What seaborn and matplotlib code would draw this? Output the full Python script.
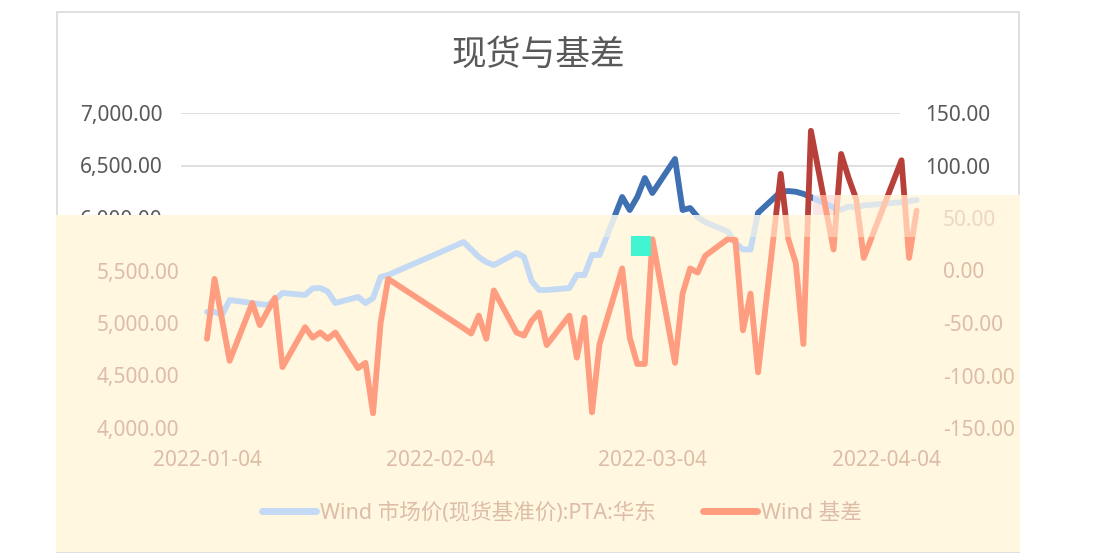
import matplotlib
matplotlib.use("Agg")
import matplotlib.dates as mdates
import matplotlib.pyplot as plt
import pandas as pd
import seaborn as sns
from matplotlib.lines import Line2D
from matplotlib.patches import Polygon, Rectangle
from matplotlib.ticker import FixedLocator, FuncFormatter

W, H = 1112, 558

dates = [
    "2022-01-04", "2022-01-05", "2022-01-06", "2022-01-07",
    "2022-01-10", "2022-01-11", "2022-01-12", "2022-01-13", "2022-01-14",
    "2022-01-17", "2022-01-18", "2022-01-19", "2022-01-20", "2022-01-21",
    "2022-01-24", "2022-01-25", "2022-01-26", "2022-01-27", "2022-01-28",
    "2022-02-07", "2022-02-08", "2022-02-09", "2022-02-10", "2022-02-11",
    "2022-02-14", "2022-02-15", "2022-02-16", "2022-02-17", "2022-02-18",
    "2022-02-21", "2022-02-22", "2022-02-23", "2022-02-24", "2022-02-25",
    "2022-02-28", "2022-03-01", "2022-03-02", "2022-03-03", "2022-03-04",
    "2022-03-07", "2022-03-08", "2022-03-09", "2022-03-10", "2022-03-11",
    "2022-03-14", "2022-03-15", "2022-03-16", "2022-03-17", "2022-03-18",
    "2022-03-21", "2022-03-22", "2022-03-23", "2022-03-24", "2022-03-25",
    "2022-03-28", "2022-03-29", "2022-03-30", "2022-03-31", "2022-04-01",
    "2022-04-06", "2022-04-07", "2022-04-08",
]
spot_price = [
    5105, 5105, 5076, 5219,
    5190, 5180, 5171, 5219, 5286,
    5267, 5330, 5333, 5300, 5190,
    5248, 5190, 5238, 5438, 5457,
    5771, 5700, 5629, 5580, 5552,
    5667, 5629, 5400, 5314, 5314,
    5333, 5457, 5457, 5648, 5648,
    6200, 6076, 6200, 6381, 6238,
    6562, 6076, 6095, 6010, 5960,
    5870, 5760, 5700, 5700, 6050,
    6250, 6257, 6250, 6230, 6200,
    6100, 6080, 6110, 6100, 6120,
    6150, 6160, 6170,
]
basis = [
    -65, -8, -47, -86,
    -31, -52, -39, -26, -92,
    -54, -64, -59, -65, -59,
    -93, -88, -136, -50, -8,
    -55, -60, -43, -65, -19,
    -59, -62, -48, -40, -71,
    -43, -83, -45, -135, -70,
    2, -64, -89, -89, 30,
    -88, -22, 2, -2, 14,
    30, 29, -57, -22, -97,
    92, 30, 7, -70, 133,
    20, 111, 88, 68, 12,
    105, 12, 57,
]
left_ticks = [4000, 4500, 5000, 5500, 6000, 6500, 7000]
right_ticks = [-150, -100, -50, 0, 50, 100, 150]
date_ticks = ["2022-01-04", "2022-02-04", "2022-03-04", "2022-04-04"]
title = "现货与基差"
spot_label = "Wind 市场价(现货基准价):PTA:华东"
basis_label = "Wind 基差"

DARK_BLUE = "#3E70B2"
DARK_RED = "#B8403B"
PALE_BLUE = "#C3D9F4"
SALMON = "#FF9D80"
CREAM = "#FFF7E0"
TAN = "#DDBDA7"
GREY_TEXT = "#595959"
GRID = "#D9D9D9"
LW = 4.2


def fx(px):
    return px / W


def fy(py):
    return 1 - py / H


def fmt(spec, lo=None, hi=None):
    # label only the ticks that stay visible on this layer
    def f(v, p):
        if lo is not None and v < lo:
            return ""
        if hi is not None and v > hi:
            return ""
        return format(v, spec)
    return FuncFormatter(f)


sns.set_theme(style="white")
plt.rcParams["font.family"] = ["Noto Sans", "Noto Sans CJK SC", "DejaVu Sans"]

df = pd.DataFrame({"date": pd.to_datetime(dates), "spot": spot_price, "basis": basis})
start = pd.Timestamp(dates[0])
xlim = (start - pd.Timedelta(days=3.44), start + pd.Timedelta(days=91.8))

fig = plt.figure(figsize=(W / 100, H / 100), dpi=100, facecolor="white")
rect = [fx(181), fy(428), fx(900) - fx(181), (428 - 113) / H]

# chart frame and title
fig.add_artist(Rectangle((fx(57), fy(552)), fx(1019) - fx(57), (552 - 12) / H,
                         transform=fig.transFigure, fill=False, edgecolor=GRID,
                         linewidth=1.2, zorder=1))
fig.text(fx(538), fy(55), title, ha="center", va="center", fontsize=25,
         color=GREY_TEXT, family=["Noto Sans CJK SC", "DejaVu Sans"])

# underlying chart (dark lines)
ax = fig.add_axes(rect)
ax.patch.set_alpha(0)
sns.lineplot(data=df, x="date", y="spot", ax=ax, color=DARK_BLUE, linewidth=LW)
ax2 = ax.twinx()
sns.lineplot(data=df, x="date", y="basis", ax=ax2, color=DARK_RED, linewidth=LW)
for line in ax.lines + ax2.lines:
    line.set_clip_on(False)
    line.set_solid_joinstyle("round")

ax.set_xlim(*xlim)
ax.set_ylim(4000, 7000)
ax2.set_ylim(-150, 150)
ax.set_yticks(left_ticks)
ax2.set_yticks(right_ticks)
ax.yaxis.set_major_formatter(fmt(",.2f", lo=6000))
ax2.yaxis.set_major_formatter(fmt(".2f", lo=100))
ax.yaxis.grid(True, color=GRID, linewidth=1.2)
ax.xaxis.grid(False)
ax2.grid(False)
ax.tick_params(axis="y", length=0, pad=13.5, labelsize=15, labelcolor=GREY_TEXT)
ax2.tick_params(axis="y", length=0, pad=18, labelsize=15, labelcolor=GREY_TEXT)
ax.tick_params(axis="x", length=0, labelbottom=False)
for a in (ax, ax2):
    a.set_xlabel("")
    a.set_ylabel("")
    for s in a.spines.values():
        s.set_visible(False)

# washed-out cream overlay over the lower part
overlay_pts = [(56, 215), (813, 215), (813, 195), (1020, 195), (1020, 552), (56, 552)]
overlay_xy = [(fx(x), fy(y)) for x, y in overlay_pts]
fig.add_artist(Polygon(overlay_xy, closed=True, transform=fig.transFigure,
                       facecolor=CREAM, edgecolor="none", zorder=5))
fig.add_artist(Rectangle((fx(813), fy(215)), fx(835) - fx(813), 20 / H,
                         transform=fig.transFigure, facecolor="#FBE6E3",
                         edgecolor="none", zorder=6))
clip_poly = Polygon(overlay_xy, closed=True, transform=fig.transFigure)

axo = fig.add_axes(rect, zorder=10)
axo.patch.set_alpha(0)
sns.lineplot(data=df, x="date", y="spot", ax=axo, color=PALE_BLUE, linewidth=LW)
axo2 = axo.twinx()
axo2.set_zorder(11)
axo2.patch.set_alpha(0)
sns.lineplot(data=df, x="date", y="basis", ax=axo2, color=SALMON, linewidth=LW)
for line in axo.lines + axo2.lines:
    line.set_clip_box(None)
    line.set_clip_path(clip_poly)
    line.set_solid_joinstyle("round")

axo.set_xlim(*xlim)
axo.set_ylim(4000, 7000)
axo2.set_ylim(-150, 150)
axo.set_yticks([v for v in left_ticks if v <= 5500])
axo2.set_yticks([v for v in right_ticks if v <= 50])
axo.yaxis.set_major_formatter(fmt(",.2f"))
axo2.yaxis.set_major_formatter(fmt(".2f"))
axo.xaxis.set_major_locator(FixedLocator(mdates.date2num(pd.to_datetime(date_ticks))))
axo.xaxis.set_major_formatter(mdates.DateFormatter("%Y-%m-%d"))
axo.tick_params(axis="y", length=0, pad=1, labelsize=15, labelcolor=TAN)
axo2.tick_params(axis="y", length=0, pad=31, labelsize=15, labelcolor=TAN)
axo.tick_params(axis="x", length=0, pad=16, labelsize=15, labelcolor=TAN)
for a in (axo, axo2):
    a.grid(False)
    a.set_xlabel("")
    a.set_ylabel("")
    for s in a.spines.values():
        s.set_visible(False)

handles = [Line2D([], [], color=PALE_BLUE, linewidth=5, solid_capstyle="round"),
           Line2D([], [], color=SALMON, linewidth=5, solid_capstyle="round")]
axo2.legend(handles, [spot_label, basis_label], loc="center",
            bbox_to_anchor=(fx(562), fy(513)), bbox_transform=fig.transFigure,
            ncol=2, frameon=False, fontsize=15.5, labelcolor=TAN,
            handlelength=2.5, handletextpad=0.2, columnspacing=2.2)

# lighter strip just under the overlay edge, and the stray cyan block
fig.add_artist(Rectangle((fx(56), fy(237)), fx(1020) - fx(56), 22 / H,
                         transform=fig.transFigure, facecolor=CREAM, alpha=0.45,
                         edgecolor="none", zorder=12))
fig.add_artist(Rectangle((fx(835), fy(215)), fx(1020) - fx(835), 20 / H,
                         transform=fig.transFigure, facecolor=CREAM, alpha=0.45,
                         edgecolor="none", zorder=12))
fig.add_artist(Rectangle((fx(631), fy(256)), 20 / W, 20 / H,
                         transform=fig.transFigure, facecolor="#41F4D2",
                         edgecolor="none", zorder=13))

fig.savefig("out.png", dpi=100)
